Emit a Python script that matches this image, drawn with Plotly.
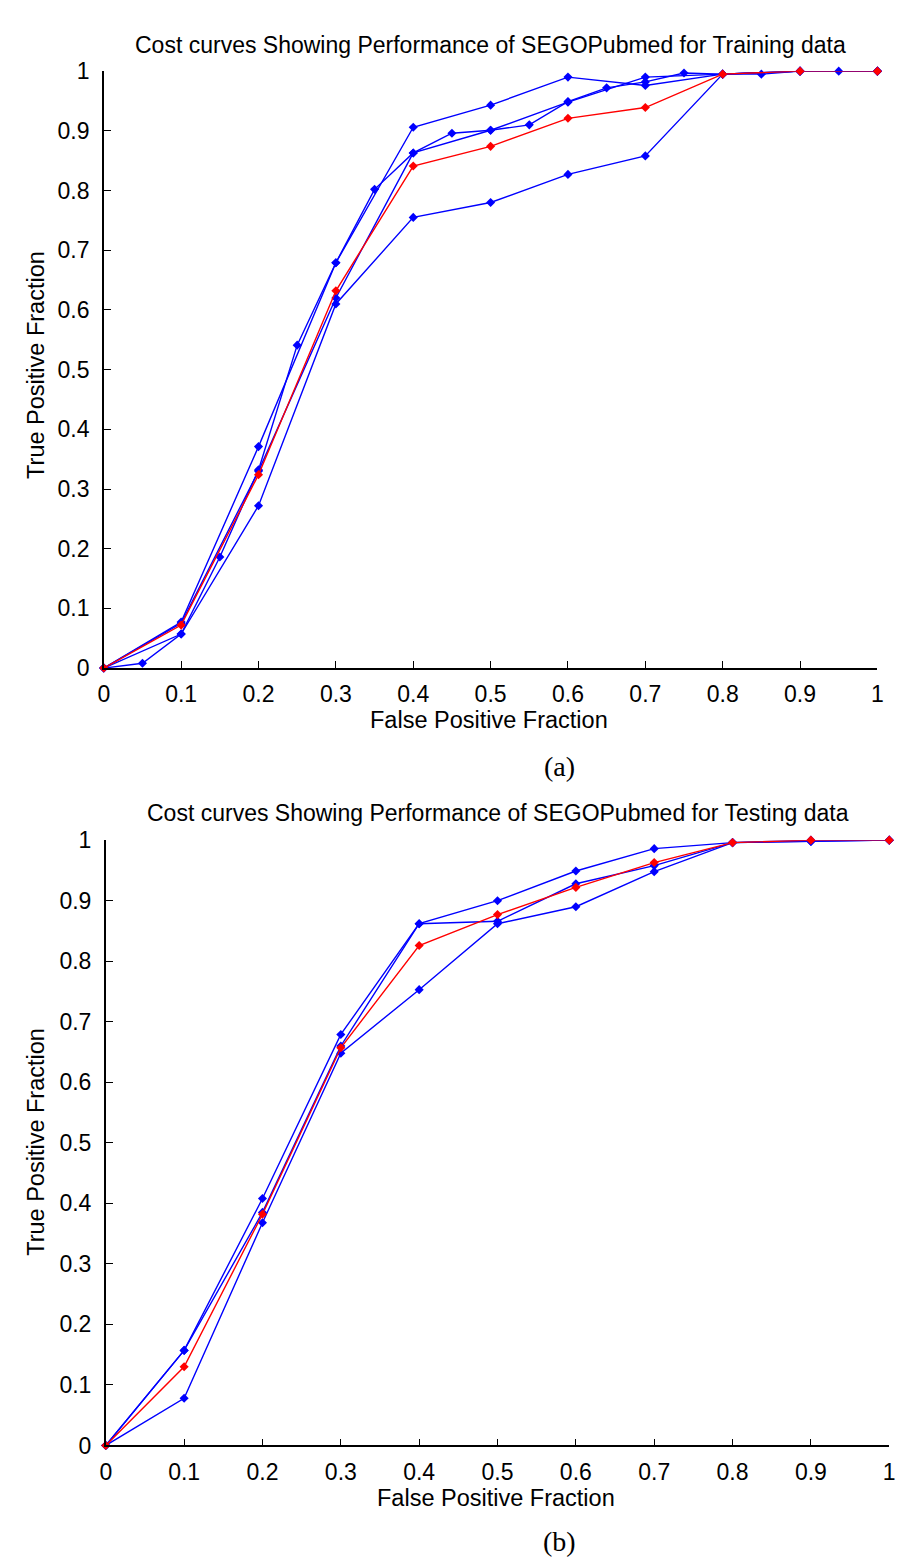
import plotly.graph_objects as go

# ---------------- data ----------------
fpf_step10 = [0, 0.1, 0.2, 0.3, 0.4, 0.5, 0.6, 0.7, 0.8, 0.9, 1.0]
fpf_step05 = [0, 0.05, 0.1, 0.15, 0.2, 0.25, 0.3, 0.35, 0.4, 0.45, 0.5,
              0.55, 0.6, 0.65, 0.7, 0.75, 0.8, 0.85, 0.9, 0.95, 1.0]

# Training data (a)
train_blue_a = [0, 0.077, 0.371, 0.679, 0.906, 0.943, 0.990, 0.976, 0.995, 1.0, 1.0]
train_blue_b = [0, 0.057, 0.272, 0.610, 0.755, 0.780, 0.827, 0.858, 0.995, 1.0, 1.0]
train_blue_c = [0, 0.075, 0.330, 0.620, 0.863, 0.901, 0.948, 0.990, 0.995, 1.0, 1.0]
train_blue_s = [0, 0.008, 0.057, 0.186, 0.332, 0.541, 0.679, 0.802, 0.863, 0.896, 0.901,
                0.910, 0.949, 0.972, 0.982, 0.997, 0.995, 0.995, 1.0, 1.0, 1.0]
train_red = [0, 0.072, 0.324, 0.632, 0.841, 0.874, 0.921, 0.939, 0.995, 1.0, 1.0]

# Testing data (b)
test_blue_a = [0, 0.157, 0.408, 0.679, 0.862, 0.900, 0.949, 0.986, 0.996, 1.0, 1.0]
test_blue_b = [0, 0.157, 0.385, 0.660, 0.862, 0.866, 0.928, 0.958, 0.996, 0.998, 1.0]
test_blue_c = [0, 0.078, 0.368, 0.648, 0.753, 0.862, 0.890, 0.948, 0.996, 0.998, 1.0]
test_red = [0, 0.130, 0.382, 0.657, 0.826, 0.877, 0.922, 0.963, 0.996, 1.0, 1.0]

tick_vals = [0, 0.1, 0.2, 0.3, 0.4, 0.5, 0.6, 0.7, 0.8, 0.9, 1.0]
tick_text = ["0", "0.1", "0.2", "0.3", "0.4", "0.5", "0.6", "0.7", "0.8", "0.9", "1"]

title_a = "Cost curves Showing Performance of SEGOPubmed for Training data"
title_b = "Cost curves Showing Performance of SEGOPubmed for Testing data"
xlabel = "False Positive Fraction"
ylabel = "True Positive Fraction"

# ---------------- figure ----------------
W, H = 906, 1566
BLUE = "#0000FF"
RED = "#FF0000"
FONT = "Liberation Sans"

fig = go.Figure()


def add_curve(x, y, color, xa, ya):
    fig.add_trace(go.Scatter(
        x=x, y=y, mode="lines+markers", xaxis=xa, yaxis=ya,
        line=dict(color=color, width=1.4),
        marker=dict(symbol="diamond", size=7, color=color, line=dict(width=0)),
        cliponaxis=False, showlegend=False, hoverinfo="x+y"))


for ys in (train_blue_a, train_blue_b, train_blue_c):
    add_curve(fpf_step10, ys, BLUE, "x", "y")
add_curve(fpf_step05, train_blue_s, BLUE, "x", "y")
add_curve(fpf_step10, train_red, RED, "x", "y")

for ys in (test_blue_a, test_blue_b, test_blue_c):
    add_curve(fpf_step10, ys, BLUE, "x2", "y2")
add_curve(fpf_step10, test_red, RED, "x2", "y2")


def px_x(v):
    return v / W


def px_y(v):
    return 1 - v / H


axis_common = dict(
    range=[0, 1], tickmode="array", tickvals=tick_vals, ticktext=tick_text,
    ticks="inside", ticklen=7, tickwidth=1.3, tickcolor="black",
    showline=True, linecolor="black", linewidth=1.5, mirror=False,
    showgrid=False, zeroline=False, fixedrange=True,
    tickfont=dict(family=FONT, size=23, color="black"),
)

fig.update_layout(
    width=W, height=H,
    margin=dict(l=0, r=0, t=0, b=0),
    paper_bgcolor="white", plot_bgcolor="white",
    xaxis=dict(domain=[px_x(91), px_x(875)], anchor="y", ticklabelstandoff=5, **axis_common),
    yaxis=dict(domain=[px_y(658), px_y(51)], anchor="x", ticklabelstandoff=8, **axis_common),
    xaxis2=dict(domain=[px_x(93), px_x(887)], anchor="y2", ticklabelstandoff=5, **axis_common),
    yaxis2=dict(domain=[px_y(1448.5), px_y(833)], anchor="x2", ticklabelstandoff=8, **axis_common),
)

title_font = dict(family=FONT, size=23, color="black")
label_font = dict(family=FONT, size=23.5, color="black")
annotations = [
    dict(text=title_a, x=px_x(483), y=px_y(24), font=title_font),
    dict(text=title_b, x=px_x(490), y=px_y(805), font=title_font),
    dict(text=xlabel, x=px_x(481), y=px_y(711), font=label_font),
    dict(text=xlabel, x=px_x(488), y=px_y(1502), font=label_font),
    dict(text=ylabel, x=px_x(22), y=px_y(350), textangle=-90, font=label_font),
    dict(text=ylabel, x=px_x(22), y=px_y(1140), textangle=-90, font=label_font),
]
for a in annotations:
    a.update(xref="paper", yref="paper", xanchor="center", yanchor="middle",
             showarrow=False)
for txt, yy in (("(a)", 758), ("(b)", 1546)):
    annotations.append(dict(text=txt, x=px_x(553), y=px_y(yy), xref="paper", yref="paper",
                            xanchor="center", yanchor="middle", showarrow=False,
                            font=dict(family="Liberation Serif", size=28, color="black")))
fig.update_layout(annotations=annotations)

fig.write_html("out.html")
